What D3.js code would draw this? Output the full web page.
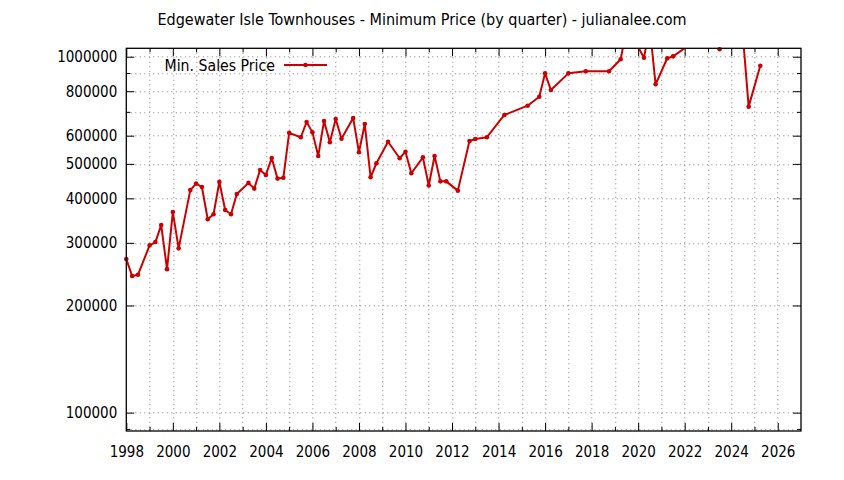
<!DOCTYPE html>
<html>
<head>
<meta charset="utf-8">
<script src="https://cdn.jsdelivr.net/npm/d3@7"></script>
<style>
  body { margin: 0; background: #fff; }
  svg { display: block; }
  text { font-family: "DejaVu Sans Condensed", "DejaVu Sans", sans-serif; fill: #000; }
</style>
</head>
<body>
<svg id="chart" width="844" height="480"></svg>
<script>
// ---- data ----
const chartTitle = "Edgewater Isle Townhouses - Minimum Price (by quarter) - julianalee.com";
const seriesName = "Min. Sales Price";
const quarters = [
  1998.0, 1998.25, 1998.5, 1999.0, 1999.25, 1999.5, 1999.75, 2000.0, 2000.25, 2000.75,
  2001.0, 2001.25, 2001.5, 2001.75, 2002.0, 2002.25, 2002.5, 2002.75, 2003.25, 2003.5,
  2003.75, 2004.0, 2004.25, 2004.5, 2004.75, 2005.0, 2005.5, 2005.75, 2006.0, 2006.25,
  2006.5, 2006.75, 2007.0, 2007.25, 2007.75, 2008.0, 2008.25, 2008.5, 2008.75, 2009.25,
  2009.75, 2010.0, 2010.25, 2010.75, 2011.0, 2011.25, 2011.5, 2011.75, 2012.25, 2012.75,
  2013.0, 2013.5, 2014.25, 2015.25, 2015.75, 2016.0, 2016.25, 2017.0, 2017.75, 2018.75,
  2019.25, 2019.5, 2020.0, 2020.25, 2020.5, 2020.75, 2021.25, 2021.5, 2022.25, 2022.75,
  2023.5, 2024.0, 2024.5, 2024.75, 2025.25
];
const prices = [
  270000, 242000, 244000, 295000, 301500, 336500, 253000, 366000, 289500, 422000,
  440000, 430500, 349500, 361000, 445000, 371000, 361000, 411500, 442000, 426000,
  480500, 465500, 519500, 454500, 457000, 611000, 594000, 655500, 613000, 526000,
  660000, 575000, 668000, 588500, 673000, 539000, 647000, 458500, 502000, 577000,
  518500, 541000, 470500, 521500, 434500, 526000, 446500, 446500, 420500, 579500,
  587000, 594000, 686000, 728500, 772000, 898000, 806000, 898000, 910000, 910000,
  983500, 1200000, 1065000, 993500, 1210000, 836500, 990000, 1002500, 1085000, 1150000,
  1050000, 1180000, 1150000, 724000, 943500
];
const xLabelYears = [1998, 2000, 2002, 2004, 2006, 2008, 2010, 2012, 2014, 2016, 2018, 2020, 2022, 2024, 2026];
const xMinorYears = [1999, 2001, 2003, 2005, 2007, 2009, 2011, 2013, 2015, 2017, 2019, 2021, 2023, 2025];
const yLabelValues = [100000, 200000, 300000, 400000, 500000, 600000, 800000, 1000000];
const yMinorValues = [90000, 700000, 900000];

// ---- layout ----
const W = 844, H = 480;
const margin = { left: 126.3, right: 43, top: 48.3, bottom: 49 };
const plotW = W - margin.left - margin.right;
const plotH = H - margin.top - margin.bottom;
const red = "#cc0000";

const svg = d3.select("#chart");
const g = svg.append("g").attr("transform", `translate(${margin.left},${margin.top})`);

const x = d3.scaleLinear().domain([1998, 2027]).range([0, plotW]);
const y = d3.scaleLog().domain([88800, 1056000]).range([plotH, 0]);

const data = quarters.map((q, i) => ({ q, v: prices[i] }));

// grid
const grid = g.append("g").attr("stroke", "#808080").attr("stroke-width", 1).attr("stroke-dasharray", "1,3.5");
grid.selectAll("line.v").data(xLabelYears.concat(xMinorYears).filter(d => d > 1998 && d < 2027))
  .join("line").attr("class", "v")
  .attr("x1", d => Math.round(x(d)) + 0.5).attr("x2", d => Math.round(x(d)) + 0.5)
  .attr("y1", 0).attr("y2", plotH);
grid.selectAll("line.h").data(yLabelValues.concat(yMinorValues))
  .join("line").attr("class", "h")
  .attr("y1", d => Math.round(y(d)) + 0.5).attr("y2", d => Math.round(y(d)) + 0.5)
  .attr("x1", 0).attr("x2", plotW);

// axes (ticks point inward, gnuplot style)
function styleAxis(sel) {
  sel.select(".domain").remove();
  sel.selectAll(".tick line").attr("stroke", "#000").attr("stroke-width", 1);
  sel.selectAll("text").style("font-size", "15px").attr("fill", "#000");
}
const fmt = d3.format("d");
g.append("g").attr("transform", `translate(0,${plotH})`)
  .call(d3.axisBottom(x).tickValues(xLabelYears).tickFormat(fmt).tickSizeInner(-8).tickSizeOuter(0).tickPadding(15))
  .call(styleAxis);
g.append("g").attr("transform", `translate(0,${plotH})`)
  .call(d3.axisBottom(x).tickValues(xMinorYears).tickFormat("").tickSizeInner(-4).tickSizeOuter(0))
  .call(styleAxis);
g.append("g")
  .call(d3.axisTop(x).tickValues(xLabelYears).tickFormat("").tickSizeInner(-8).tickSizeOuter(0))
  .call(styleAxis);
g.append("g")
  .call(d3.axisTop(x).tickValues(xMinorYears).tickFormat("").tickSizeInner(-4).tickSizeOuter(0))
  .call(styleAxis);
g.append("g")
  .call(d3.axisLeft(y).tickValues(yLabelValues).tickFormat(fmt).tickSizeInner(-8).tickSizeOuter(0).tickPadding(9))
  .call(styleAxis);
g.append("g")
  .call(d3.axisLeft(y).tickValues(yMinorValues).tickFormat("").tickSizeInner(-4).tickSizeOuter(0))
  .call(styleAxis);
g.append("g").attr("transform", `translate(${plotW},0)`)
  .call(d3.axisRight(y).tickValues(yLabelValues).tickFormat("").tickSizeInner(-8).tickSizeOuter(0))
  .call(styleAxis);
g.append("g").attr("transform", `translate(${plotW},0)`)
  .call(d3.axisRight(y).tickValues(yMinorValues).tickFormat("").tickSizeInner(-4).tickSizeOuter(0))
  .call(styleAxis);

// clip
svg.append("defs").append("clipPath").attr("id", "plotClip")
  .append("rect").attr("x", 0).attr("y", 0).attr("width", plotW).attr("height", plotH);

// line
const line = d3.line().x(d => x(d.q)).y(d => y(d.v));
g.append("path").datum(data)
  .attr("clip-path", "url(#plotClip)")
  .attr("fill", "none").attr("stroke", red).attr("stroke-width", 2)
  .attr("stroke-linejoin", "round")
  .attr("d", line);

// markers (only points inside range, like gnuplot)
const [yLo, yHi] = y.domain();
g.append("g").selectAll("circle")
  .data(data.filter(d => d.v >= yLo && d.v <= yHi))
  .join("circle")
  .attr("cx", d => x(d.q)).attr("cy", d => y(d.v))
  .attr("r", 2.3).attr("fill", red);

// border
g.append("rect").attr("x", 0).attr("y", 0).attr("width", plotW).attr("height", plotH)
  .attr("fill", "none").attr("stroke", "#000").attr("stroke-width", 1.3);

// legend
const leg = g.append("g");
leg.append("text").attr("x", 275 - margin.left).attr("y", 65 - margin.top).attr("dy", "0.36em")
  .attr("text-anchor", "end").style("font-size", "15.7px").text(seriesName);
leg.append("line").attr("x1", 284 - margin.left).attr("x2", 327 - margin.left)
  .attr("y1", 65 - margin.top).attr("y2", 65 - margin.top)
  .attr("stroke", red).attr("stroke-width", 2);
leg.append("circle").attr("cx", 305.5 - margin.left).attr("cy", 65 - margin.top).attr("r", 2.3).attr("fill", red);

// title
svg.append("text").attr("x", 422).attr("y", 19).attr("dy", "0.36em")
  .attr("text-anchor", "middle").style("font-size", "16px").text(chartTitle);
</script>
</body>
</html>
